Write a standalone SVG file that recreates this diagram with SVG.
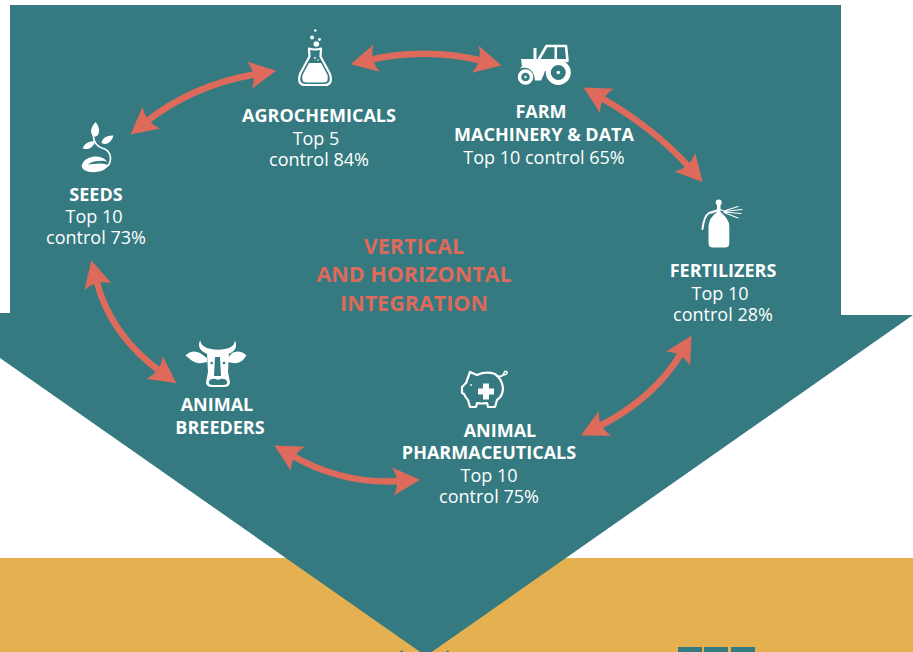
<svg xmlns="http://www.w3.org/2000/svg" width="913" height="652" viewBox="0 0 913 652">
<style>
text{font-family:"Open Sans","Noto Sans","Liberation Sans",sans-serif;text-anchor:middle;fill:#fff;font-size:18px}
.b{font-weight:700}
.t{font-weight:700;font-size:21.5px;fill:#dd6a5b}
.c{fill:none;stroke:#dd6a5b;stroke-width:6.5;marker-start:url(#h);marker-end:url(#h)}
.w{fill:#fff}
.l{fill:none;stroke:#fff;stroke-width:2.2;stroke-linejoin:round;stroke-linecap:round}
.g{fill:#347a80}
</style>
<defs>
<marker id="h" markerUnits="userSpaceOnUse" markerWidth="40" markerHeight="40" refX="8" refY="20" orient="auto-start-reverse" viewBox="0 0 40 40">
<path d="M0,6 L27,20 L0,34 Q8,20 0,6Z" fill="#dd6a5b" transform="translate(0,0)"/>
</marker>
</defs>
<rect width="913" height="652" fill="#fff"/>
<rect y="558" width="913" height="94" fill="#e5b04f"/>
<path id="arrow" class="g" d="M10,5H841V315H913V315L426,656L0,358V313H10Z"/>
<g id="bars" class="g"><rect x="678" y="647" width="24" height="5"/><rect x="704" y="647" width="24" height="5"/><rect x="731" y="647" width="24" height="5"/><path d="M400,652l2,-2l1,2zM446,652l2,-2l1,2z"/></g>
<g id="connectors">
<path class="c" d="M145.300,122.500Q192,85 257.300,73.900"/>
<path class="c" d="M369,60Q426,47 483,61"/>
<path class="c" d="M600,97Q654,128 690,168"/>
<path class="c" d="M682,352Q655,398 598,427"/>
<path class="c" d="M401,481Q343,485 291,455"/>
<path class="c" d="M161,372Q110,335 96,279"/>
</g>
<g id="title"><text class="t" x="414" y="254">VERTICAL</text><text class="t" x="414" y="282">AND HORIZONTAL</text><text class="t" x="414" y="311">INTEGRATION</text></g>
<g id="agrochemicals">
<path class="l" d="M309,48.500Q315,50.500 321,48.500L320.500,56.500L330,74Q333,85 325,85H305Q297,85 300,74L309.500,56.500Z"/>
<path class="w" d="M309,63H321L327.500,75Q329,82.500 324,82.500H306Q301,82.500 302.500,75Z"/>
<circle class="w" cx="315.300" cy="30.500" r="1.300"/><circle class="w" cx="312" cy="37.500" r="2"/><circle class="w" cx="319.500" cy="39.500" r="1.400"/><circle class="w" cx="316.300" cy="44" r="2.800"/><circle class="w" cx="315" cy="58" r=".9"/><circle class="w" cx="318" cy="60" r=".8"/>
<text class="b" x="319" y="122">AGROCHEMICALS</text><text x="316" y="145">Top 5</text><text x="319" y="166">control 84%</text>
</g>
<g id="farm-machinery">
<path class="w" d="M521,59H533.500V48H536.500V59H546V71H545Q543,77 541,80.500H535Q534,70 527,68Q522,67 520,69L522,66Z"/>
<path class="l" style="stroke-width:2.6" d="M539,59L546.500,46H566L567.500,61"/>
<path class="w" d="M547.500,59L549.500,48H553V59ZM557,48H563.500L565,57H557Z" style="fill:#fff;opacity:0"/>
<path class="w" d="M554.500,46H557V60H554.500Z"/>
<path class="w" d="M546,59H567V62Q555,60 548,71H545Z"/>
<circle cx="558.300" cy="72.500" r="10" fill="none" stroke="#fff" stroke-width="5"/><circle class="w" cx="558.300" cy="72.500" r="1.700"/>
<circle cx="525.500" cy="77" r="6" fill="none" stroke="#fff" stroke-width="3.500"/><circle class="w" cx="525.500" cy="77" r="1.200"/>
<text class="b" x="541" y="118">FARM</text><text class="b" x="544" y="141">MACHINERY &amp; DATA</text><text x="544" y="164">Top 10 control 65%</text>
</g>
<g id="fertilizers">
<circle class="w" cx="718.700" cy="202.500" r="3"/>
<path class="w" d="M717,205H720.500V212Q729,219 729.300,226V243Q729.300,247.500 725,247.500H713Q708.500,247.500 708.500,243V226Q709,218 717,212Z"/>
<path class="l" style="stroke-width:2" d="M702.500,229Q704,216 709,213Q713,212 717,210.500"/>
<path class="l" style="stroke-width:1.200" d="M724,211L738,206.500M724,211.500L742,209.500M724,212L741,213.500M724,212.500L738,218M720,209.500L724,211"/>
<text class="b" x="723" y="277">FERTILIZERS</text><text x="720" y="300">Top 10</text><text x="723" y="321">control 28%</text>
</g>
<g id="pharmaceuticals">
<path class="l" d="M470,372L477,375Q486,371 495,374Q502,379 503,388Q503,396 497,400L495,407H488L487,403Q481,404 477,403L476,407H470L468,400Q465,397 464,394L462,393V387L466,383Z"/>
<path class="l" style="stroke-width:1.500" d="M499,376Q503,377 504,373Q505,370 507,372Q508,374 504,375"/>
<path class="w" d="M483,383.500H489V388.500H494V394.500H489V399.500H483V394.500H478V388.500H483Z"/>
<circle class="w" cx="471" cy="385" r=".9"/>
<text class="b" x="500" y="437">ANIMAL</text><text class="b" x="489" y="459">PHARMACEUTICALS</text><text x="489" y="482">Top 10</text><text x="489" y="503">control 75%</text>
</g>
<g id="breeders">
<path class="w" d="M200,340.500Q196,350 208,354Q213,352 218,354.500Q224,352 228,354Q239,350 235,340.500Q234,348 225,349Q218,350.500 211,349Q202,348 200,340.500Z"/>
<path class="w" d="M185.500,355.500Q192,349 200,353L207,358V362Q197,365 191,360ZM246.500,355.500Q240,349 232,353L228,358V362Q238,365 243,360Z"/>
<path class="w" d="M207,353H229L228,372L230,382Q230,387 224,387H212Q206,387 206,382L208,372Z"/>
<path class="g" d="M215,357H220L221,376H214Z"/>
<circle class="g" cx="211.700" cy="363" r="1.300"/><circle class="g" cx="224" cy="363" r="1.300"/>
<path class="g" d="M209,381Q212,377 218,380Q224,377 227,381Q228,385 223,385H213Q208,385 209,381Z"/>
<text class="b" x="217" y="411">ANIMAL</text><text class="b" x="220" y="434">BREEDERS</text>
</g>
<g id="seeds">
<path class="w" d="M93,137Q88,130 95.500,122Q101,128 98,135Q96,137 93,137Z"/>
<path class="w" d="M101.500,143Q103,135 113.500,135.500Q112,142 106,144Q103,144 101.500,143Z"/>
<path class="w" d="M82.500,148.500Q85,141 95,141Q94,147 88,149Q85,149 82.500,148.500Z"/>
<path class="l" style="stroke-width:1.700" d="M93.500,137Q94,145 102,148Q110,150 110.500,158Q110.500,165 106,167"/>
<path class="w" d="M81.500,166Q83,158 94,156.500Q104,155.500 108,163Q106,160 99,161Q91,161 88,165Q92,163.500 100,163.500Q105,163.500 108,165Q106,171 96,172Q83,173 81.500,166Z"/>
<text class="b" x="96" y="201">SEEDS</text><text x="94" y="223">Top 10</text><text x="96" y="244">control 73%</text>
</g>
</svg>
